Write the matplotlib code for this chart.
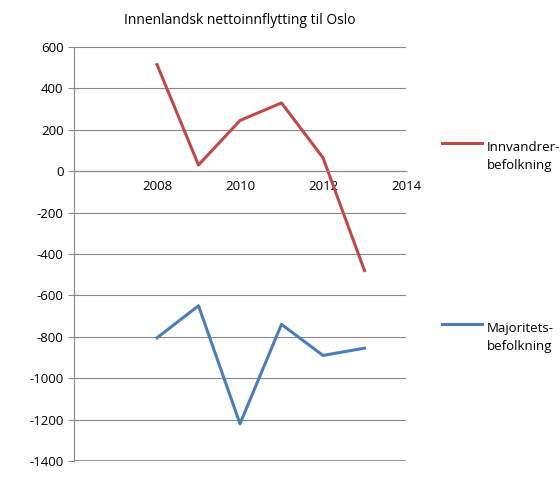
import matplotlib
matplotlib.use("Agg")
import matplotlib.pyplot as plt
from matplotlib.lines import Line2D

years = [2008, 2009, 2010, 2011, 2012, 2013]
innvandrer = [515, 30, 245, 330, 65, -480]
majoritet = [-805, -650, -1220, -740, -890, -855]
xticks = [2008, 2010, 2012, 2014]
yticks = list(range(-1400, 601, 200))

plt.rcParams['font.family'] = ['Open Sans', 'DejaVu Sans']
plt.rcParams['axes.unicode_minus'] = False
fig = plt.figure(figsize=(5.6, 4.87), dpi=100)
ax = fig.add_axes([74/560, 26/487, 332/560, 414/487])
red, blue = '#BE4B48', '#4A7EBB'
ax.plot(years, innvandrer, color=red, lw=2.2)
ax.plot(years, majoritet, color=blue, lw=2.2)
ax.set_xlim(2006, 2014)
ax.set_ylim(-1400, 600)
ax.set_yticks(yticks)
ax.set_xticks(xticks)
ax.tick_params(labelsize=9.5, length=0)
ax.tick_params(axis='y', length=4, color='#888888', direction='out')
ax.grid(axis='y', color='#888888', lw=0.8)
ax.axhline(-1400, color='#888888', lw=1.2)
ax.set_axisbelow(True)
for s in ['top', 'right']:
    ax.spines[s].set_visible(False)
ax.spines['left'].set_color('#888888')
ax.spines['bottom'].set_position(('data', 0))
ax.spines['bottom'].set_color('#888888')
ax.tick_params(axis='x', pad=6)
fig.text(240/560, 1-20/487, 'Innenlandsk nettoinnflytting til Oslo', ha='center', va='center', fontsize=10)
for y0, col, lab in [(143, red, 'Innvandrer-\nbefolkning'), (324, blue, 'Majoritets-\nbefolkning')]:
    fig.add_artist(Line2D([442/560, 482/560], [1-y0/487]*2, color=col, lw=2.2))
    fig.text(487/560, 1-(y0-2)/487, lab, ha='left', va='top', fontsize=9.5, linespacing=1.5)
fig.savefig('out.png', dpi=100)
